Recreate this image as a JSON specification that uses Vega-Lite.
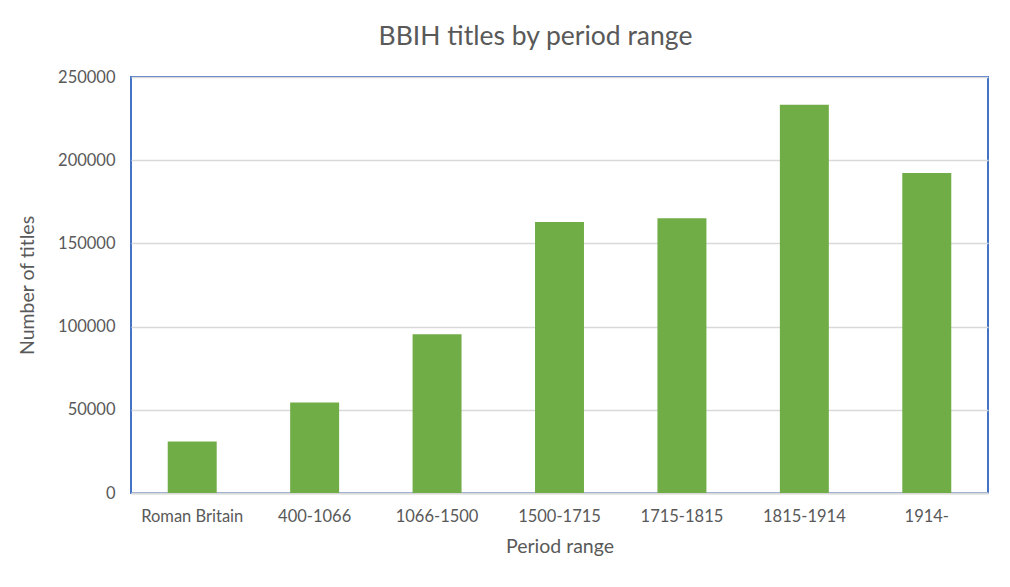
{
  "$schema": "https://vega.github.io/schema/vega-lite/v6.json",
  "autosize": {"type": "none"},
  "padding": {"left": 131, "top": 77, "right": 22, "bottom": 94},
  "width": 857,
  "height": 416,
  "background": "#ffffff",
  "title": {
    "text": "BBIH titles by period range",
    "font": "Lato",
    "fontSize": 26.5,
    "fontWeight": "normal",
    "color": "#595959",
    "anchor": "middle",
    "dx": -24,
    "offset": 19
  },
  "config": {
    "view": {"stroke": "#4472C4", "strokeWidth": 2},
    "axis": {
      "labelFont": "Lato",
      "titleFont": "Lato",
      "labelFontSize": 16.5,
      "titleFontSize": 19.5,
      "labelColor": "#595959",
      "titleColor": "#595959",
      "titleFontWeight": "normal",
      "ticks": false
    }
  },
  "data": {
    "values": [
      {"period": "Roman Britain", "titles": 30900},
      {"period": "400-1066", "titles": 54400},
      {"period": "1066-1500", "titles": 95400},
      {"period": "1500-1715", "titles": 162800},
      {"period": "1715-1815", "titles": 165100},
      {"period": "1815-1914", "titles": 233300},
      {"period": "1914-", "titles": 192300}
    ]
  },
  "mark": {"type": "bar", "color": "#70AD47"},
  "encoding": {
    "x": {
      "field": "period",
      "type": "nominal",
      "sort": null,
      "title": "Period range",
      "scale": {"paddingInner": 0.6, "paddingOuter": 0.3},
      "axis": {
        "labelAngle": 0,
        "labelPadding": 15,
        "titlePadding": 13,
        "domainColor": "#d9d9d9",
        "domainWidth": 2
      }
    },
    "y": {
      "field": "titles",
      "type": "quantitative",
      "title": "Number of titles",
      "scale": {"domain": [0, 250000]},
      "axis": {
        "values": [0, 50000, 100000, 150000, 200000, 250000],
        "format": "d",
        "domain": false,
        "gridColor": "#d9d9d9",
        "gridWidth": 1.5,
        "labelPadding": 16,
        "titlePadding": 20
      }
    }
  }
}
